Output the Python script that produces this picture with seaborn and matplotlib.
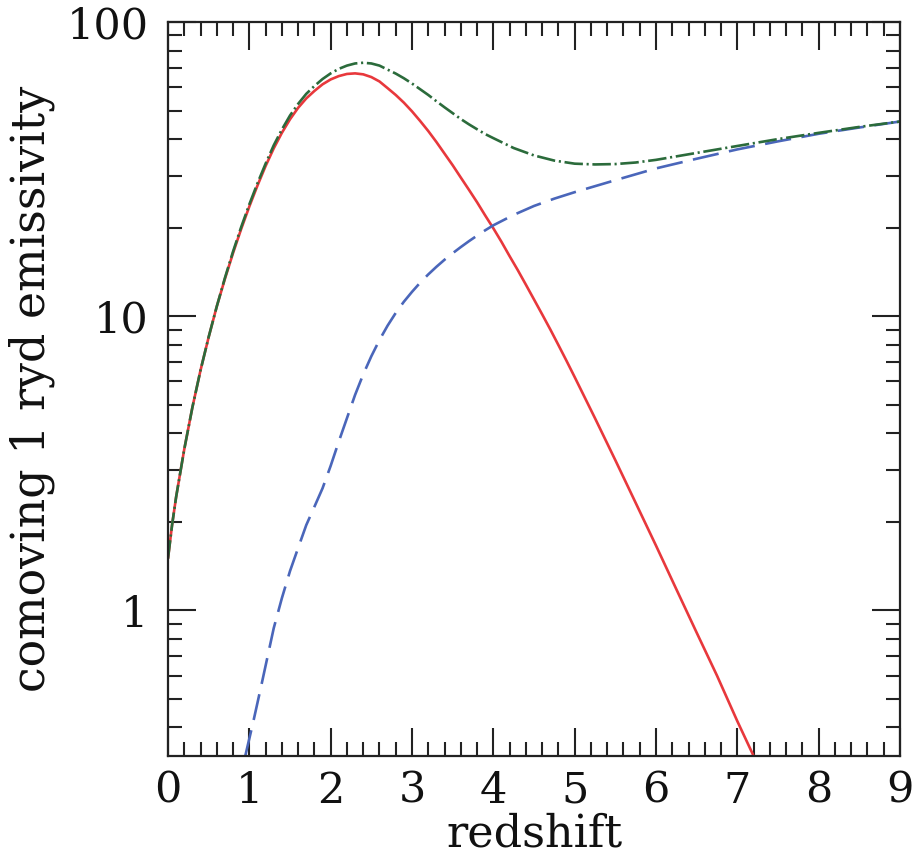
import matplotlib
matplotlib.use("Agg")
import matplotlib.pyplot as plt
import seaborn as sns
import numpy as np
import pandas as pd
from matplotlib.ticker import FixedLocator, FixedFormatter, MultipleLocator, LogLocator, NullFormatter

# ---------------- data ----------------
qso_z = [0.0, 0.05, 0.1, 0.2, 0.3, 0.4, 0.5, 0.6, 0.7, 0.8, 0.9, 1.0, 1.1, 1.2, 1.3,
         1.4, 1.5, 1.6, 1.7, 1.8, 1.9, 2.0, 2.1, 2.2, 2.3, 2.4, 2.5, 2.6, 2.7, 2.8,
         2.9, 3.0, 3.1, 3.2, 3.3, 3.4, 3.5, 3.6, 3.7, 3.8, 3.9, 4.0, 4.1, 4.2, 4.3,
         4.4, 4.5, 4.6, 4.7, 4.8, 4.9, 5.0, 5.25, 5.5, 5.75, 6.0, 6.25, 6.5, 6.75,
         7.0, 7.2]
qso_em = [1.50, 1.95, 2.43, 3.53, 4.90, 6.55, 8.49, 10.8, 13.4, 16.4, 19.8, 23.6, 27.8,
          32.4, 37.2, 42.0, 46.7, 51.1, 55.0, 58.3, 61.4, 63.8, 65.5, 66.6, 66.9, 66.4,
          65.0, 62.8, 59.6, 56.5, 53.2, 49.7, 46.1, 42.6, 39.1, 35.7, 32.6, 29.6, 26.9,
          24.4, 22.0, 19.9, 17.9, 16.0, 14.35, 12.8, 11.4, 10.15, 9.02, 7.98, 7.05, 6.21,
          4.50, 3.24, 2.32, 1.66, 1.18, 0.84, 0.60, 0.42, 0.32]

gal_z = [0.95, 1.05, 1.15, 1.3, 1.4, 1.5, 1.6, 1.7, 1.8, 1.9, 2.0, 2.1, 2.2, 2.3, 2.4,
         2.5, 2.6, 2.7, 2.8, 2.9, 3.0, 3.1, 3.2, 3.3, 3.4, 3.5, 3.6, 3.7, 3.8, 3.9,
         4.0, 4.25, 4.5, 4.75, 5.0, 5.5, 6.0, 6.5, 7.0, 7.5, 8.0, 8.5, 9.0]
gal_em = [0.32, 0.42, 0.56, 0.87, 1.10, 1.36, 1.63, 1.95, 2.25, 2.60, 3.10, 3.75, 4.50,
          5.40, 6.34, 7.31, 8.30, 9.29, 10.26, 11.2, 12.1, 13.0, 13.87, 14.72, 15.56,
          16.37, 17.18, 17.99, 18.79, 19.59, 20.37, 22.1, 23.7, 25.1, 26.4, 29.0, 31.8,
          34.3, 36.9, 39.3, 41.7, 43.8, 45.9]

tot_z = [0.0, 0.05, 0.1, 0.2, 0.3, 0.4, 0.5, 0.6, 0.7, 0.8, 0.9, 1.0, 1.1, 1.2, 1.3,
         1.4, 1.5, 1.6, 1.7, 1.8, 1.9, 2.0, 2.1, 2.2, 2.3, 2.4, 2.5, 2.6, 2.7, 2.8,
         2.9, 3.0, 3.1, 3.2, 3.3, 3.4, 3.5, 3.6, 3.7, 3.8, 3.9, 4.0, 4.25, 4.5, 4.75,
         5.0, 5.25, 5.5, 5.75, 6.0, 6.5, 7.0, 7.5, 8.0, 8.5, 9.0]
tot_em = [1.50, 1.95, 2.43, 3.53, 4.90, 6.55, 8.50, 10.8, 13.5, 16.6, 20.1, 24.0, 28.3,
          33.0, 38.1, 43.1, 48.1, 52.7, 57.0, 60.6, 64.0, 66.9, 69.3, 71.1, 72.3, 72.7,
          72.3, 71.1, 68.9, 66.8, 64.4, 61.8, 59.1, 56.5, 53.8, 51.3, 49.0, 46.8, 44.9,
          43.2, 41.6, 40.3, 37.3, 35.2, 33.8, 33.0, 32.8, 32.9, 33.3, 34.0, 35.9, 37.9,
          40.0, 42.0, 44.0, 45.9]

x_ticks = [0, 1, 2, 3, 4, 5, 6, 7, 8, 9]
x_ticklabels = ["0", "1", "2", "3", "4", "5", "6", "7", "8", "9"]
y_ticks = [1, 10, 100]
y_ticklabels = ["1", "10", "100"]
x_label = "redshift"
y_label = "comoving 1 ryd emissivity"

# ---------------- styling ----------------
sns.set_style("ticks")
plt.rcParams["font.family"] = ["DejaVu Serif", "DejaVu Sans"]

fig = plt.figure(figsize=(9.14, 8.57), dpi=100)
ax = fig.add_axes([0.1838, 0.1179, 0.8009, 0.8564])

df_q = pd.DataFrame({"z": qso_z, "em": qso_em})
df_g = pd.DataFrame({"z": gal_z, "em": gal_em})
df_t = pd.DataFrame({"z": tot_z, "em": tot_em})

lw = 1.9
sns.lineplot(data=df_q, x="z", y="em", ax=ax, color="#e8383c", linewidth=lw, sort=False)
sns.lineplot(data=df_g, x="z", y="em", ax=ax, color="#4a66ba", linewidth=lw, sort=False,
             linestyle=(0, (10, 4)))
sns.lineplot(data=df_t, x="z", y="em", ax=ax, color="#2b6b3b", linewidth=lw, sort=False,
             linestyle=(0, (7, 1.4, 0.8, 1.4)))

ax.set_yscale("log")
ax.set_xlim(0, 9)
ax.set_ylim(0.32, 100)

ax.xaxis.set_major_locator(FixedLocator(x_ticks))
ax.xaxis.set_major_formatter(FixedFormatter(x_ticklabels))
ax.xaxis.set_minor_locator(MultipleLocator(0.2))
ax.yaxis.set_major_locator(FixedLocator(y_ticks))
ax.yaxis.set_major_formatter(FixedFormatter(y_ticklabels))
ax.yaxis.set_minor_locator(LogLocator(base=10, subs=np.arange(2, 10)))
ax.yaxis.set_minor_formatter(NullFormatter())

ax.tick_params(which="major", direction="in", length=20, width=1.5, top=True, right=True,
               labelsize=31, colors="#222222", labelcolor="#111111")
ax.tick_params(axis="x", which="major", pad=10)
ax.tick_params(axis="y", which="major", pad=14)
ax.tick_params(which="minor", direction="in", length=10, width=1.5, top=True, right=True,
               colors="#222222")
for s in ax.spines.values():
    s.set_linewidth(1.6)
    s.set_color("#222222")
    s.set_visible(True)

ax.set_xlabel(x_label, fontsize=32, color="#111111", labelpad=0)
ax.set_ylabel(y_label, fontsize=33, color="#111111")
ax.yaxis.set_label_coords(-0.155, 0.5)

fig.savefig("out.png", dpi=100, facecolor="white")
